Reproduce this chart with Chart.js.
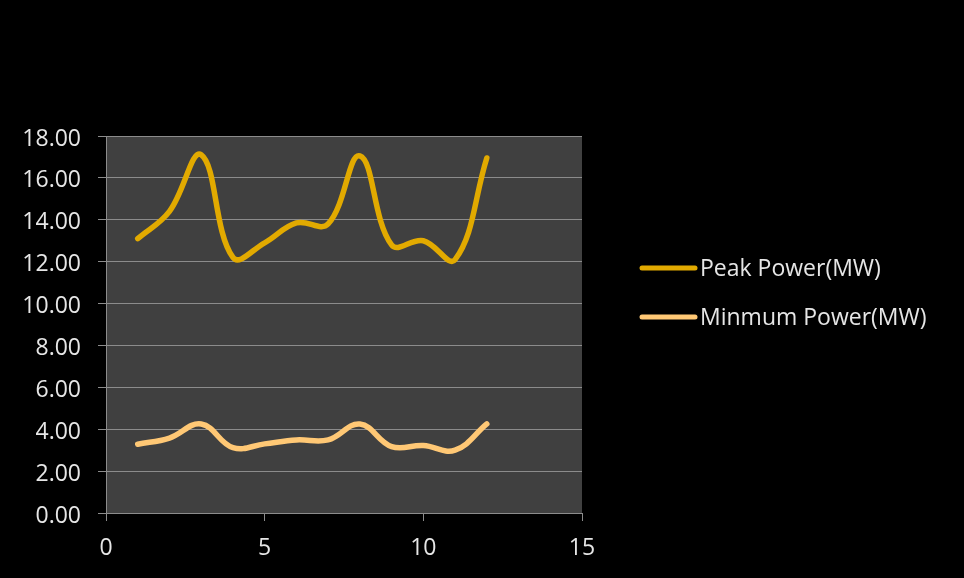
<!DOCTYPE html>
<html>
<head>
<meta charset="utf-8">
<script src="https://cdn.jsdelivr.net/npm/chart.js@4/dist/chart.umd.min.js"></script>
<style>
  html, body { margin: 0; padding: 0; background: #000; }
  #wrap { width: 964px; height: 578px; }
</style>
</head>
<body>
<div id="wrap"><canvas id="myChart" width="964" height="578"></canvas></div>
<script>
// data
const xValues = [1, 2, 3, 4, 5, 6, 7, 8, 9, 10, 11, 12];
const peakPower = [13.1, 14.4, 17.1, 12.2, 12.9, 13.85, 13.8, 17.05, 12.8, 13.0, 12.1, 16.95];
const minPower = [3.28, 3.58, 4.25, 3.12, 3.3, 3.49, 3.49, 4.25, 3.17, 3.22, 3.0, 4.25];
const seriesNames = ['Peak Power(MW)', 'Minmum Power(MW)'];
const seriesColors = ['#E2AA00', '#FFC875'];
const yTicks = [0, 2, 4, 6, 8, 10, 12, 14, 16, 18];
const xTicks = [0, 5, 10, 15];

const FONT = "'Open Sans', 'Noto Sans', sans-serif";
const FONT_SIZE = 23;
const textColor = '#e6e6e6';
const gridColor = '#8c8c8c';

function toPoints(vals) {
    return xValues.map(function (x, i) { return { x: x, y: vals[i] }; });
}

// dark plot area behind the lines
const plotBg = {
    id: 'plotBg',
    beforeDraw(chart) {
        const a = chart.chartArea, c = chart.ctx;
        c.save();
        c.fillStyle = '#000';
        c.fillRect(0, 0, chart.width, chart.height);
        c.fillStyle = '#404040';
        c.fillRect(a.left, a.top, a.right - a.left, a.bottom - a.top);
        c.restore();
    }
};

// legend on the right, drawn from the datasets
const sideLegend = {
    id: 'sideLegend',
    afterDraw(chart) {
        const c = chart.ctx;
        c.save();
        c.font = FONT_SIZE + 'px ' + FONT;
        c.textBaseline = 'middle';
        chart.data.datasets.forEach(function (ds, i) {
            const y = 268 + i * 49;
            c.strokeStyle = ds.borderColor;
            c.lineWidth = 5;
            c.lineCap = 'round';
            c.beginPath();
            c.moveTo(642, y);
            c.lineTo(695, y);
            c.stroke();
            c.fillStyle = textColor;
            c.fillText(ds.label, 700, y + 1);
        });
        c.restore();
    }
};

const ctx = document.getElementById('myChart');
new Chart(ctx, {
    type: 'line',
    data: {
        datasets: [{
            label: seriesNames[0],
            data: toPoints(peakPower),
            borderColor: seriesColors[0],
            borderWidth: 5.5,
            tension: 0.4,
            pointRadius: 0,
            borderCapStyle: 'round'
        },
        {
            label: seriesNames[1],
            data: toPoints(minPower),
            borderColor: seriesColors[1],
            borderWidth: 5.5,
            tension: 0.4,
            pointRadius: 0,
            borderCapStyle: 'round'
        }]
    },
    options: {
        responsive: false,
        animation: false,
        layout: {
            padding: { left: 0, top: 136, right: 382, bottom: 0 }
        },
        plugins: {
            legend: { display: false },
            tooltip: { enabled: false }
        },
        scales: {
            x: {
                type: 'linear',
                min: 0,
                max: 15,
                afterBuildTicks(scale) {
                    scale.ticks = xTicks.map(function (v) { return { value: v }; });
                },
                afterFit(scale) { scale.height = 65; },
                grid: {
                    drawOnChartArea: false,
                    drawTicks: true,
                    tickLength: 8,
                    color: gridColor
                },
                border: { color: gridColor, width: 1 },
                ticks: {
                    color: textColor,
                    font: { family: FONT, size: FONT_SIZE },
                    padding: 14,
                    maxRotation: 0
                }
            },
            y: {
                min: 0,
                max: 18,
                afterBuildTicks(scale) {
                    scale.ticks = yTicks.map(function (v) { return { value: v }; });
                },
                afterFit(scale) { scale.width = 106; },
                grid: {
                    color: gridColor,
                    lineWidth: 1,
                    drawTicks: true,
                    tickLength: 8
                },
                border: { color: gridColor, width: 1 },
                ticks: {
                    color: textColor,
                    font: { family: FONT, size: FONT_SIZE },
                    padding: 17,
                    labelOffset: 3,
                    callback: function (v) { return Number(v).toFixed(2); }
                }
            }
        }
    },
    plugins: [plotBg, sideLegend]
});
</script>
</body>
</html>
